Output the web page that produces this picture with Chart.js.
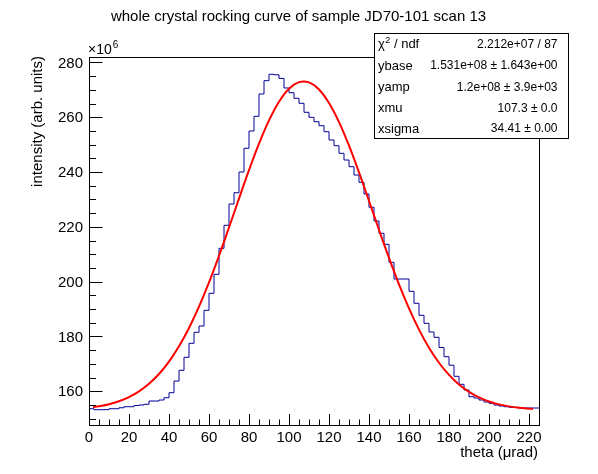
<!DOCTYPE html>
<html><head><meta charset="utf-8">
<script src="https://cdn.jsdelivr.net/npm/chart.js@4.4.0/dist/chart.umd.min.js"></script>
<style>html,body{margin:0;padding:0;background:#fff;}canvas{display:block;}</style>
</head><body>
<canvas id="c" width="598" height="474"></canvas>
<script>
// ---- data (values in units of 10^6) ----
const binEdges = [0,2.5,5,7.5,10,12.5,15,17.5,20,22.5,25,27.5,30,32.5,35,37.5,40,42.5,45,47.5,
  50,52.5,55,57.5,60,62.5,65,67.5,70,72.5,75,77.5,80,82.5,85,87.5,90,92.5,95,97.5,
  100,102.5,105,107.5,110,112.5,115,117.5,120,122.5,125,127.5,130,132.5,135,137.5,140,142.5,145,147.5,
  150,152.5,155,157.5,160,162.5,165,167.5,170,172.5,175,177.5,180,182.5,185,187.5,190,192.5,195,197.5,
  200,202.5,205,207.5,210,212.5,215,217.5,220,222.5,225];
const counts = [153.64,153.28,153.28,153.3,153.64,153.64,154.0,154.37,154.37,154.8,
  155.0,155.25,156.45,156.45,156.82,157.66,159.48,163.75,167.66,172.4,
  177.51,181.53,183.82,189.55,195.76,202.69,212.18,220.58,228.35,232.47,
  240.03,248.68,254.99,260.36,268.5,273.35,275.69,275.5,274.19,270.69,
  268.97,266.93,265.1,261.82,259.99,258.39,256.93,254.74,251.71,249.63,
  246.85,244.41,241.96,238.93,236.27,232.0,227.15,222.15,217.66,213.64,
  207.07,200.98,200.98,200.98,196.49,192.11,187.73,184.81,181.64,179.7,
  175.98,172.62,169.52,165.47,162.55,160.47,158.02,157.55,156.82,156.09,
  155.61,154.99,154.63,154.37,154.15,154.15,153.9,153.9,153.9,153.9];
const fitX = [2,5,10,15,20,25,30,35,40,45,50,55,60,65,70,75,80,85,90,95,100,105,
  110,115,120,125,130,135,140,145,150,155,160,165,170,175,180,185,190,195,200,205,210,215,220,222];
const fitY = [154.21,154.54,155.30,156.39,157.90,159.97,162.73,166.30,170.81,176.40,183.10,190.90,
  199.74,209.46,219.79,230.34,240.70,250.37,258.86,265.67,270.44,272.83,
  272.73,270.13,265.20,258.23,249.63,239.90,229.50,218.94,208.67,199.01,190.24,182.51,175.91,170.42,
  165.98,162.47,159.78,157.77,156.28,155.23,154.50,154.00,153.66,153.56];
const xTickLabels = ['0','20','40','60','80','100','120','140','160','180','200','220'];
const yTickLabels = ['160','180','200','220','240','260','280'];
const statsNames = ['χ2 / ndf','ybase','yamp','xmu','xsigma'];
const statsValues = ['2.212e+07 / 87','1.531e+08 ± 1.643e+00','1.2e+08 ± 3.9e+03','107.3 ± 0.0','34.41 ± 0.00'];
const titleText = 'whole crystal rocking curve of sample JD70-101 scan 13';
const xTitle = 'theta (μrad)';
const yTitle = 'intensity (arb. units)';

const FONT = '"Liberation Sans", Arial, Helvetica, sans-serif';

const histData = binEdges.map((x, i) => ({x: x, y: counts[Math.min(i, counts.length - 1)]}));
const fitData = fitX.map((x, i) => ({x: x, y: fitY[i]}));

const rootPlugin = {
  id: 'rootStyle',
  beforeDraw(chart) {
    const ctx = chart.ctx;
    ctx.save();
    ctx.fillStyle = '#fff';
    ctx.fillRect(0, 0, chart.width, chart.height);
    ctx.restore();
  },
  afterDraw(chart) {
    const ctx = chart.ctx;
    const a = chart.chartArea;
    const xs = chart.scales.x, ys = chart.scales.y;
    ctx.save();
    ctx.strokeStyle = '#000';
    ctx.lineWidth = 1;
    // frame
    ctx.strokeRect(Math.round(a.left) + 0.5, Math.round(a.top) + 0.5,
      Math.round(a.right) - Math.round(a.left), Math.round(a.bottom) - Math.round(a.top));
    // y ticks
    const yMajorLen = 13.5, yMinorLen = 7;
    for (let v = 150; v <= 280; v += 5) {
      const py = Math.round(ys.getPixelForValue(v)) + 0.5;
      if (py < a.top || py > a.bottom) continue;
      const len = (v % 20 === 0) ? yMajorLen : yMinorLen;
      ctx.beginPath();
      ctx.moveTo(Math.round(a.left), py);
      ctx.lineTo(Math.round(a.left) + len, py);
      ctx.stroke();
    }
    // x ticks
    const xMajorLen = 11, xMinorLen = 5.5;
    for (let v = 0; v <= 225; v += 5) {
      const px = Math.round(xs.getPixelForValue(v)) + 0.5;
      const len = (v % 20 === 0) ? xMajorLen : xMinorLen;
      ctx.beginPath();
      ctx.moveTo(px, Math.round(a.bottom));
      ctx.lineTo(px, Math.round(a.bottom) - len);
      ctx.stroke();
    }
    ctx.fillStyle = '#000';
    // y labels
    ctx.font = '15px ' + FONT;
    ctx.textAlign = 'right';
    ctx.textBaseline = 'middle';
    yTickLabels.forEach(t => {
      ctx.fillText(t, a.left - 6, ys.getPixelForValue(parseFloat(t)) + 1);
    });
    // x labels
    ctx.textAlign = 'center';
    xTickLabels.forEach(t => {
      ctx.fillText(t, xs.getPixelForValue(parseFloat(t)), a.bottom + 13);
    });
    // exponent
    ctx.textAlign = 'left';
    ctx.font = '14px ' + FONT;
    ctx.fillText('×10', a.left - 1, a.top - 7);
    const w10 = ctx.measureText('×10').width;
    ctx.font = '10px ' + FONT;
    ctx.fillText('6', a.left - 1 + w10 + 1, a.top - 12);
    // title
    ctx.font = '15px ' + FONT;
    ctx.textAlign = 'center';
    ctx.fillText(titleText, 298.5, 17);
    // x title
    ctx.textAlign = 'right';
    ctx.fillText(xTitle, a.right - 1, 453);
    // y title
    ctx.save();
    ctx.translate(38, a.top - 1);
    ctx.rotate(-Math.PI / 2);
    ctx.textAlign = 'right';
    ctx.fillText(yTitle, 0, 0);
    ctx.restore();
    // stats box
    const bx = 374.5, by = 33.5, bw = 194, bh = 105;
    ctx.fillStyle = '#fff';
    ctx.fillRect(bx, by, bw, bh);
    ctx.strokeRect(bx, by, bw, bh);
    ctx.fillStyle = '#000';
    const rowY = [44.5, 66, 87.3, 108.3, 129];
    const labFont = '13px ' + FONT, valFont = '12px ' + FONT;
    statsNames.forEach((n, i) => {
      ctx.textAlign = 'left';
      ctx.font = labFont;
      if (i === 0) {
        ctx.fillText('χ', 378, rowY[i]);
        const wc = ctx.measureText('χ').width;
        ctx.font = '9px ' + FONT;
        ctx.fillText('2', 378 + wc + 0.5, rowY[i] - 4);
        const w2 = ctx.measureText('2').width;
        ctx.font = labFont;
        ctx.fillText(' / ndf', 378 + wc + 0.5 + w2, rowY[i]);
      } else {
        ctx.fillText(n, 378, rowY[i]);
      }
      ctx.font = valFont;
      ctx.textAlign = 'right';
      ctx.fillText(statsValues[i], 557.5, rowY[i]);
    });
    ctx.restore();
  }
};

new Chart(document.getElementById('c').getContext('2d'), {
  type: 'line',
  data: {
    datasets: [
      {label: 'fit', data: fitData, borderColor: '#ff0000', borderWidth: 2, pointRadius: 0,
       fill: false, tension: 0.4, order: 0},
      {label: 'hist', data: histData, borderColor: '#000099', borderWidth: 1, pointRadius: 0,
       fill: false, stepped: true, order: 1}
    ]
  },
  options: {
    responsive: false,
    devicePixelRatio: 1,
    animation: false,
    layout: {padding: {left: 89, right: 59, top: 57, bottom: 49}},
    plugins: {legend: {display: false}, tooltip: {enabled: false}, title: {display: false}},
    scales: {
      x: {type: 'linear', min: 0, max: 225, display: false},
      y: {type: 'linear', min: 147.7, max: 282, display: false}
    }
  },
  plugins: [rootPlugin]
});
</script>
</body></html>
